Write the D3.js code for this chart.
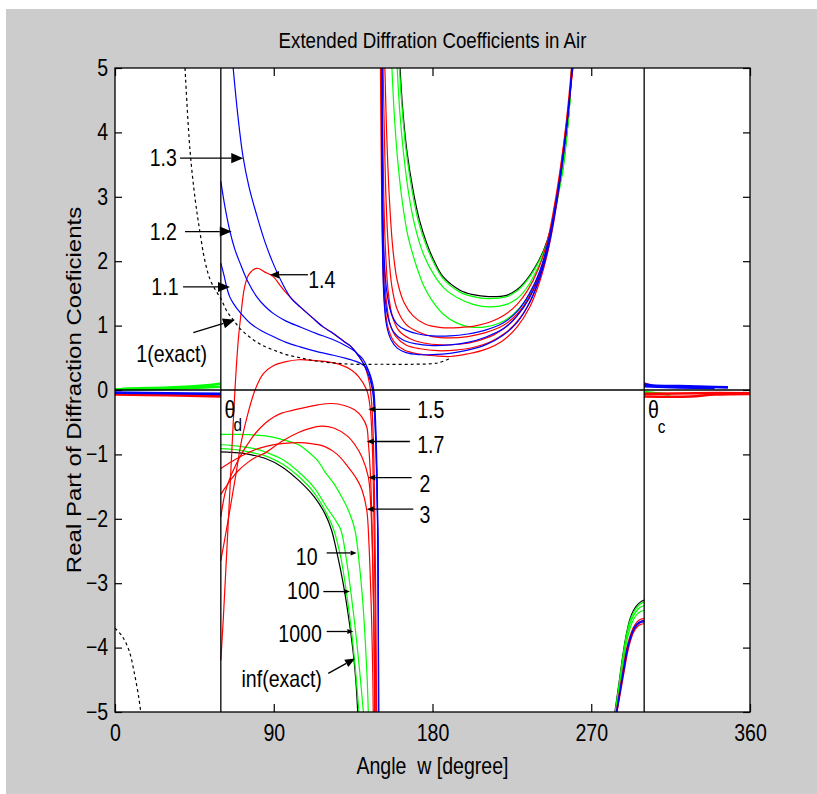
<!DOCTYPE html>
<html>
<head>
<meta charset="utf-8">
<script src="https://cdn.jsdelivr.net/npm/d3@7"></script>
<style>
body { margin: 0; background: #ffffff; }
text { font-family: "Liberation Sans", Arial, sans-serif; fill: #000000; }
</style>
</head>
<body>
<div id="chart"></div>
<script>
// frame size and margins round the plot box
const FRAME_WIDTH = 817;
const FRAME_HEIGHT = 794;
const MARGINS = {left: 115, right: 67, top: 68, bottom: 82};
const VIS_WIDTH = FRAME_WIDTH - MARGINS.left - MARGINS.right;
const VIS_HEIGHT = FRAME_HEIGHT - MARGINS.top - MARGINS.bottom;

// ticks and the two marked angles
const xTicks = [0, 90, 180, 270, 360];
const yTicks = [-5, -4, -3, -2, -1, 0, 1, 2, 3, 4, 5];
const thetaD = 60;
const thetaC = 300;

// ---- data: [angle (deg), real part] ----
// 1 (exact), dashed
const exact1Upper = [[39.7,5],[42.5,3.73],[45.5,2.95],[48,2.48],[51,2.0],[54,1.71],[57,1.55],[60,1.42],[63.5,1.22],[67,1.09],[71,0.95],[76.5,0.82],[83,0.7],[90,0.62],[97,0.55],[105,0.5],[114,0.45],[124,0.42],[135,0.4],[150,0.4],[170,0.4],[183,0.42],[190,0.49]];
const exact1Lower = [[0,-3.7],[4,-3.82],[8,-4.05],[11,-4.4],[13.5,-4.78],[14.6,-5]];

// inf (exact), solid black
const infLeft = [[60,-0.96],[66,-0.97],[72,-0.98],[78,-1.01],[85,-1.06],[94.5,-1.19],[104,-1.4],[113,-1.66],[119,-1.92],[122.7,-2.17],[126,-2.55],[129,-2.95],[132,-3.45],[135.1,-4.09],[136.5,-4.5],[137.6,-5]];
const infU = [[161.6,5],[163,4.4],[165.4,3.73],[169,3.1],[172.5,2.65],[176.7,2.28],[181,2.0],[186,1.76],[195.6,1.55],[203,1.48],[211.7,1.45],[222,1.47],[228,1.56],[233.3,1.71],[238,1.9],[243,2.17],[247,2.5],[250.4,2.95],[254,3.47],[256.3,4.0],[257.9,4.5],[258.9,5]];
const infRight = [[283.4,-5],[286,-4.5],[288,-4.1],[290,-3.78],[292,-3.55],[294,-3.42],[296,-3.34],[298,-3.29],[300,-3.26]];

// 1000, 100, 10 (green)
const g1000Left = [[60,-0.91],[66,-0.92],[72,-0.94],[79,-0.98],[86,-1.03],[95,-1.15],[104,-1.34],[113,-1.6],[120,-1.92],[124,-2.17],[128,-2.6],[131.5,-3.2],[134.5,-3.85],[136.5,-4.4],[138.3,-5]];
const g1000U = [[161.2,5],[162.7,4.4],[165,3.73],[168.5,3.08],[172,2.62],[176.5,2.24],[181,1.96],[186,1.73],[195.6,1.52],[203,1.45],[211.7,1.42],[222,1.45],[228,1.54],[233.3,1.69],[238,1.88],[243,2.15],[247,2.48],[250.4,2.93],[254,3.45],[256.3,4.0],[257.9,4.5],[258.9,5]];
const g1000Right = [[283.6,-5],[286,-4.53],[288,-4.13],[290,-3.8],[292,-3.58],[294,-3.45],[296,-3.37],[298,-3.32],[300,-3.29]];

const g100Left = [[60,-0.85],[66,-0.86],[72,-0.88],[79,-0.91],[86,-0.97],[95,-1.08],[104,-1.27],[113,-1.52],[120,-1.82],[124.5,-2.0],[128,-2.17],[131,-2.6],[134,-3.2],[137,-3.9],[139,-4.45],[140.8,-5]];
const g100U = [[160,5],[161.5,4.3],[163.5,3.7],[166.5,3.05],[170,2.55],[175,2.1],[181,1.78],[187,1.57],[195,1.42],[203,1.33],[212.6,1.29],[222,1.33],[228,1.42],[233.3,1.58],[238,1.8],[243,2.1],[247,2.45],[250.4,2.9],[254,3.43],[256.3,4.0],[257.9,4.5],[258.9,5]];
const g100Right = [[283.8,-5],[286,-4.57],[288,-4.18],[290,-3.85],[292,-3.63],[294,-3.5],[296,-3.42],[298,-3.37],[300,-3.35]];
const g100ZeroL = [[0,0.01],[30,0.02],[60,0.05]];

const g10Left = [[60,-0.69],[70,-0.69],[80,-0.7],[87,-0.72],[95,-0.77],[104,-0.85],[110,-0.97],[115,-1.1],[119,-1.27],[124,-1.45],[128.5,-1.66],[132.5,-1.88],[136,-2.17],[138.5,-2.7],[140.5,-3.3],[142,-3.95],[143,-4.5],[143.6,-5]];
const g10U = [[157,5],[158.5,4.2],[160.5,3.5],[163,2.9],[166,2.4],[170,2.0],[175,1.62],[180,1.38],[186,1.18],[193,1.05],[201,0.98],[210,0.98],[218,1.04],[226,1.18],[233,1.4],[240,1.78],[245,2.2],[249,2.7],[252.5,3.3],[255.5,4.0],[257.5,4.5],[259,5]];
const g10Right = [[284,-5],[286.2,-4.6],[288.2,-4.22],[290,-3.92],[292,-3.7],[294,-3.56],[296,-3.48],[298,-3.44],[300,-3.42]];
const g10ZeroL = [[4,0.02],[20,0.03],[40,0.05],[55,0.08],[60,0.1]];
const g10ZeroR = [[300,-0.03],[307,-0.05],[314.6,-0.07]];

// 1.4, 1.5, 1.7, 2, 3 (red)
const r14Left = [[60,-4.2],[61.5,-3.5],[63,-2.7],[64.5,-1.9],[66.5,-0.8],[68,0],[69.9,0.78],[71.5,1.2],[73.5,1.6],[76,1.8],[80.5,1.89],[85,1.83],[89.7,1.76],[93.5,1.63],[97.3,1.5],[105,1.29],[112,1.12],[118,0.98],[123.6,0.88],[130,0.75],[134,0.67],[137,0.57],[140,0.45],[142.5,0.3],[144.3,0.1],[145.5,-0.2],[146.5,-0.8],[147.3,-2],[147.9,-3.5],[148.3,-5]];
const r14U = [[150.5,5],[150.8,4],[151.2,3],[151.8,2],[153,1.3],[155,0.95],[158.5,0.74],[164,0.62],[172,0.56],[182,0.53],[190,0.52],[200,0.56],[210,0.63],[220,0.77],[228,0.98],[235,1.28],[241,1.7],[246,2.22],[250.5,2.9],[254.5,3.75],[259.6,5]];
const r14Right = [[284.6,-5],[286.8,-4.66],[288.8,-4.35],[290.4,-4.1],[292.2,-3.9],[294,-3.76],[296,-3.68],[298,-3.64],[300,-3.63]];
const r14ZeroL = [[0,-0.07],[30,-0.08],[60,-0.1]];
const r14ZeroR = [[300,-0.1],[326,-0.1],[340,-0.07],[360,-0.06]];

const r15Left = [[60,-2.65],[63,-2.2],[65.2,-1.85],[68,-1.4],[71.8,-0.78],[75.5,-0.35],[79.4,0],[84,0.25],[90,0.38],[97,0.44],[104,0.47],[112,0.46],[120,0.44],[128,0.39],[134,0.31],[138,0.21],[142.7,0],[144.6,-0.26],[145.8,-0.8],[146.8,-2],[147.5,-3.5],[147.9,-5]];
const r15U = [[150.8,5],[151.2,4],[151.7,3],[152.4,2.1],[153.8,1.4],[156,1.02],[159.5,0.82],[165,0.7],[173,0.64],[183,0.61],[193,0.62],[203,0.66],[213,0.75],[222,0.9],[230,1.13],[237,1.48],[243,1.97],[248,2.6],[252,3.3],[255.8,4.1],[259.5,5]];
const r15ZeroL = [[0,-0.05],[30,-0.06],[60,-0.08]];
const r15ZeroR = [[300,-0.06],[330,-0.05],[360,-0.05]];

const r17Left = [[60,-1.97],[62.4,-1.6],[65,-1.38],[68,-1.19],[72,-0.98],[75.5,-0.83],[80,-0.66],[85,-0.52],[90,-0.42],[94.5,-0.36],[100,-0.32],[108,-0.27],[115,-0.23],[122.8,-0.21],[130,-0.24],[136,-0.31],[140,-0.42],[142.7,-0.57],[143.6,-0.8],[144.8,-1.3],[145.8,-2.2],[146.7,-3.5],[147.4,-5]];
const r17U = [[151.3,5],[151.8,4],[152.4,3],[153.3,2.2],[155,1.5],[157.5,1.12],[161,0.92],[167,0.8],[175,0.73],[185,0.7],[195,0.71],[205,0.76],[215,0.86],[224,1.03],[231,1.27],[238,1.62],[244,2.1],[248.5,2.68],[252.5,3.38],[256,4.15],[259.4,5]];
const r17ZeroR = [[300,0.1],[302,0.08],[303.5,0.07]];

const r2Left = [[60,-1.62],[62.4,-1.52],[66,-1.38],[70,-1.25],[75.5,-1.12],[80,-1.04],[85,-0.98],[94.5,-0.8],[104,-0.66],[110,-0.6],[117,-0.56],[124,-0.59],[132,-0.72],[136,-0.85],[140,-1.04],[143.6,-1.35],[145,-1.8],[146.2,-2.8],[146.9,-4],[147.2,-5]];
const r2U = [[152,5],[152.7,4],[153.6,3],[155,2.2],[157,1.6],[160,1.25],[165,1.02],[172,0.9],[180,0.83],[190,0.81],[200,0.83],[210,0.89],[220,1.0],[228,1.18],[235,1.45],[241,1.82],[246,2.3],[250,2.88],[253.5,3.52],[256.5,4.2],[259.3,5]];
const r2Right = [[284.4,-5],[286.6,-4.64],[288.6,-4.31],[290.2,-4.06],[292.1,-3.86],[294,-3.72],[296,-3.64],[298,-3.6],[300,-3.59]];

const r3Left = [[60,-1.22],[65,-1.13],[72,-1.02],[80,-0.92],[85,-0.88],[92,-0.84],[100,-0.82],[107.7,-0.82],[113,-0.84],[119,-0.88],[126,-1.0],[132,-1.19],[137,-1.38],[140,-1.55],[142.7,-1.86],[144,-2.4],[145.2,-3.3],[146,-4.2],[146.4,-5]];
const r3U = [[153,5],[154,4],[155.5,3],[157.5,2.2],[160,1.7],[164,1.35],[169,1.15],[176,1.02],[185,0.97],[195,0.97],[205,1.0],[213,1.06],[221,1.17],[228,1.33],[234,1.55],[240,1.88],[245,2.3],[249,2.85],[252.5,3.45],[255.8,4.15],[258.8,5]];
const r3Right = [[284.2,-5],[286.4,-4.62],[288.4,-4.28],[290,-4.02],[292,-3.82],[294,-3.68],[296,-3.6],[298,-3.56],[300,-3.55]];

// 1.1, 1.2, 1.3 (blue)
const b11Left = [[60,1.97],[61.8,1.78],[63.3,1.6],[65,1.45],[67,1.35],[71,1.2],[76.5,1.04],[83,0.92],[89.7,0.83],[97,0.74],[104.9,0.67],[114,0.6],[123.8,0.54],[131,0.49],[137,0.44],[140,0.4],[142.7,0.34],[144.3,0.26],[145.5,0.16],[146.7,0],[147.6,-0.4],[148.5,-1.2],[149.1,-2.3],[149.4,-5]];
const b11U = [[151.2,5],[151.4,3],[151.8,2],[152.5,1.4],[154,1.0],[156.5,0.78],[160,0.65],[165,0.58],[172,0.55],[180,0.55],[190,0.57],[200,0.62],[210,0.7],[220,0.85],[228,1.05],[235,1.35],[241,1.75],[246,2.25],[250,2.85],[253.5,3.5],[256.5,4.2],[259.2,5]];
const b11Right = [[284.5,-5],[286.7,-4.64],[288.7,-4.32],[290.3,-4.07],[292.1,-3.87],[294,-3.73],[296,-3.65],[298,-3.61],[300,-3.6]];
const b11ZeroL = [[0,-0.04],[30,-0.05],[60,-0.06]];

const b12Left = [[60,3.24],[62.5,2.82],[65.2,2.46],[68,2.18],[70.9,1.97],[75,1.7],[80.3,1.45],[85,1.3],[89.7,1.19],[97,1.07],[104.9,0.98],[114,0.88],[123.8,0.78],[130,0.7],[135,0.62],[138,0.55],[140.8,0.47],[143.6,0.31],[145.5,0.1],[146.6,-0.1],[147.6,-0.6],[148.5,-1.5],[149.1,-2.5],[149.4,-5]];
const b12U = [[151.3,5],[151.5,3],[152,2.0],[153,1.45],[155,1.1],[158,0.9],[163,0.78],[170,0.72],[180,0.69],[190,0.7],[200,0.74],[210,0.82],[220,0.95],[228,1.15],[235,1.43],[241,1.8],[246,2.3],[250,2.88],[253.5,3.52],[256.5,4.2],[259.2,5]];
const b12ZeroR = [[300,0.06],[320,0.04],[340,0.03]];

const b13Left = [[67,5],[69.5,4.3],[72.6,3.62],[76,3.15],[80.5,2.7],[85,2.3],[89.6,1.97],[95,1.65],[100,1.42],[105,1.29],[112,1.12],[118,0.98],[123.6,0.88],[130,0.75],[134,0.67],[137,0.57],[140,0.45],[142.5,0.32],[144.5,0.17],[146,0],[147.4,-0.5],[148.3,-1.3],[149,-2.3],[149.3,-3.5],[149.5,-5]];
const b13U = [[151.5,5],[151.8,3],[152.5,2.1],[154,1.55],[156.5,1.2],[160,1.02],[165,0.93],[172,0.87],[180,0.84],[190,0.84],[200,0.87],[210,0.93],[220,1.04],[228,1.22],[235,1.5],[241,1.86],[246,2.35],[250,2.92],[253.5,3.55],[256.5,4.2],[259.2,5]];
const b13Right = [[284.3,-5],[286.5,-4.63],[288.5,-4.3],[290.1,-4.05],[292,-3.85],[294,-3.71],[296,-3.63],[298,-3.59],[300,-3.58]];
const b13ZeroR = [[300,0.09],[305,0.07],[320,0.06],[335,0.05],[347.5,0.04]];

// curve labels and where their arrows point (data units)
const curveLabels = ["1.3", "1.2", "1.1", "1(exact)", "1.4", "1.5", "1.7", "2", "3", "10", "100", "1000", "inf(exact)"];
const labelX = [27.4, 27.4, 28.3, 32.1, 117.2, 179.0, 179.0, 175.7, 175.7, 108.7, 106.8, 104.9, 94.5];
const labelY = [3.60, 2.46, 1.60, 0.57, 1.71, -0.31, -0.85, -1.45, -1.94, -2.59, -3.12, -3.78, -4.48];
const arrowFrom = [[36.9,3.60],[39.7,2.46],[38.6,1.60],[44.4,0.89],[109.4,1.79],[167.2,-0.30],[167.2,-0.80],[168.2,-1.36],[169.1,-1.85],[120.0,-2.53],[118.1,-3.13],[120.0,-3.75],[120.9,-4.40]];
const arrowTo = [[72.7,3.60],[66.2,2.46],[65.2,1.60],[68.0,1.09],[87.9,1.79],[143.6,-0.30],[142.7,-0.80],[143.6,-1.36],[142.7,-1.85],[137.0,-2.53],[133.2,-3.13],[135.1,-3.75],[136.1,-4.17]];

// ---- styles ----
const BLUE = "#0000ff", RED = "#ff0000", GREEN = "#00ff00", BLACK = "#000000";
const SX = 0.85; // the picture's text is squeezed sideways
const HEAD = [12, 12, 12, 12, 9, 7, 7, 7, 7, 6, 6, 6, 10];

// draw order: black exact first, dashed last
const SERIES = [
	{color: BLACK, segs: [infLeft, infU, infRight], bands: []},
	{color: GREEN, segs: [g1000Left, g1000U, g1000Right], bands: []},
	{color: GREEN, segs: [g100Left, g100U, g100Right], bands: [g100ZeroL]},
	{color: GREEN, segs: [g10Left, g10U, g10Right], bands: [g10ZeroL, g10ZeroR]},
	{color: RED, segs: [r3Left, r3U, r3Right], bands: []},
	{color: RED, segs: [r2Left, r2U, r2Right], bands: []},
	{color: RED, segs: [r17Left, r17U], bands: [r17ZeroR]},
	{color: RED, segs: [r15Left, r15U], bands: [r15ZeroL, r15ZeroR]},
	{color: RED, segs: [r14Left, r14U, r14Right], bands: [r14ZeroL, r14ZeroR]},
	{color: BLUE, segs: [b11Left, b11U, b11Right], bands: [b11ZeroL]},
	{color: BLUE, segs: [b12Left, b12U], bands: [b12ZeroR]},
	{color: BLUE, segs: [b13Left, b13U, b13Right], bands: [b13ZeroR]},
	{color: BLACK, segs: [exact1Upper, exact1Lower], bands: [], dash: "3,3"}
];

const svg = d3.select("#chart")
	.append("svg")
		.attr("width", FRAME_WIDTH)
		.attr("height", FRAME_HEIGHT);

// grey figure background
svg.append("rect")
	.attr("x", 6).attr("y", 9)
	.attr("width", FRAME_WIDTH - 6).attr("height", FRAME_HEIGHT - 9)
	.attr("fill", "#cccccc");

const X_SCALE = d3.scaleLinear()
	.domain([0, 360])
	.range([MARGINS.left, MARGINS.left + VIS_WIDTH]);
const Y_SCALE = d3.scaleLinear()
	.domain([-5, 5])
	.range([MARGINS.top + VIS_HEIGHT, MARGINS.top]);

// white plot box
svg.append("rect")
	.attr("x", MARGINS.left).attr("y", MARGINS.top)
	.attr("width", VIS_WIDTH).attr("height", VIS_HEIGHT)
	.attr("fill", "#ffffff");

svg.append("clipPath").attr("id", "plotclip")
	.append("rect")
		.attr("x", MARGINS.left).attr("y", MARGINS.top)
		.attr("width", VIS_WIDTH).attr("height", VIS_HEIGHT);

const line = d3.line()
	.x((d) => X_SCALE(d[0]))
	.y((d) => Y_SCALE(d[1]))
	.curve(d3.curveCatmullRom.alpha(0.5));

const plot = svg.append("g").attr("clip-path", "url(#plotclip)");

SERIES.forEach((s) => {
	plot.selectAll(null)
		.data(s.bands)
		.enter()
		.append("path")
			.attr("d", line)
			.attr("fill", "none")
			.attr("stroke", s.color)
			.attr("stroke-width", 2.6);
	plot.selectAll(null)
		.data(s.segs)
		.enter()
		.append("path")
			.attr("d", line)
			.attr("fill", "none")
			.attr("stroke", s.color)
			.attr("stroke-width", 1.2)
			.attr("stroke-dasharray", s.dash || null);
});

// zero line and the two angle markers
svg.append("line")
	.attr("x1", X_SCALE(0)).attr("x2", X_SCALE(360))
	.attr("y1", Y_SCALE(0)).attr("y2", Y_SCALE(0))
	.attr("stroke", BLACK).attr("stroke-width", 1.3);
[thetaD, thetaC].forEach((a) => {
	svg.append("line")
		.attr("x1", X_SCALE(a)).attr("x2", X_SCALE(a))
		.attr("y1", Y_SCALE(-5)).attr("y2", Y_SCALE(5))
		.attr("stroke", BLACK).attr("stroke-width", 1.3);
});

// squeezed text helper
function addText(x, y, str, size, anchor) {
	return svg.append("g")
		.attr("transform", "translate(" + x + "," + y + ") scale(" + SX + ",1)")
		.append("text")
			.attr("text-anchor", anchor || "middle")
			.style("font-size", size + "px")
			.text(str);
}

// arrows with filled heads
curveLabels.forEach((lab, i) => {
	const x1 = X_SCALE(arrowFrom[i][0]), y1 = Y_SCALE(arrowFrom[i][1]);
	const x2 = X_SCALE(arrowTo[i][0]), y2 = Y_SCALE(arrowTo[i][1]);
	const len = Math.hypot(x2 - x1, y2 - y1);
	const ux = (x2 - x1) / len, uy = (y2 - y1) / len;
	const h = HEAD[i], w = h * 0.42;
	const bx = x2 - ux * h, by = y2 - uy * h;
	svg.append("line")
		.attr("x1", x1).attr("y1", y1).attr("x2", bx).attr("y2", by)
		.attr("stroke", BLACK).attr("stroke-width", 1.3);
	svg.append("polygon")
		.attr("points", [[x2, y2], [bx - uy * w, by + ux * w], [bx + uy * w, by - ux * w]].join(" "))
		.attr("fill", BLACK);
	addText(X_SCALE(labelX[i]), Y_SCALE(labelY[i]), lab, 23).attr("dy", "0.36em");
});

// theta labels
addText(X_SCALE(65.2), Y_SCALE(-0.31), "θ", 23).attr("dy", "0.36em");
addText(X_SCALE(69.6), Y_SCALE(-0.54), "d", 18).attr("dy", "0.36em");
addText(X_SCALE(305.2), Y_SCALE(-0.31), "θ", 23).attr("dy", "0.36em");
addText(X_SCALE(309.9), Y_SCALE(-0.56), "c", 18).attr("dy", "0.36em");

// axes, ticks pointing inward on all four sides
function styleAxis(g) {
	g.attr("font-family", null).attr("font-size", null);
	g.selectAll(".domain").remove();
	g.selectAll(".tick line").attr("stroke", BLACK).attr("stroke-width", 1.2);
	g.selectAll(".tick text")
		.attr("transform", "scale(" + SX + ",1)")
		.style("font-size", "23px");
}

svg.append("g")
	.attr("transform", "translate(0," + (MARGINS.top + VIS_HEIGHT) + ")")
	.call(d3.axisBottom(X_SCALE).tickValues(xTicks).tickSizeInner(-8).tickSizeOuter(0).tickPadding(13))
	.call(styleAxis);
svg.append("g")
	.attr("transform", "translate(0," + MARGINS.top + ")")
	.call(d3.axisTop(X_SCALE).tickValues(xTicks).tickSizeInner(-8).tickSizeOuter(0).tickFormat(""))
	.call(styleAxis);
svg.append("g")
	.attr("transform", "translate(" + MARGINS.left + ",0)")
	.call(d3.axisLeft(Y_SCALE).tickValues(yTicks).tickSizeInner(-7).tickSizeOuter(0).tickPadding(8))
	.call(styleAxis);
svg.append("g")
	.attr("transform", "translate(" + (MARGINS.left + VIS_WIDTH) + ",0)")
	.call(d3.axisRight(Y_SCALE).tickValues(yTicks).tickSizeInner(-7).tickSizeOuter(0).tickFormat(""))
	.call(styleAxis);

// plot box border
svg.append("rect")
	.attr("x", MARGINS.left).attr("y", MARGINS.top)
	.attr("width", VIS_WIDTH).attr("height", VIS_HEIGHT)
	.attr("fill", "none").attr("stroke", BLACK).attr("stroke-width", 1.3);

// title and axis titles
addText(MARGINS.left + VIS_WIDTH / 2, 48, "Extended Diffration Coefficients in Air", 22);
addText(MARGINS.left + VIS_WIDTH / 2, 774, "Angle  w [degree]", 23).style("white-space", "pre");
svg.append("g")
	.attr("transform", "translate(81," + (MARGINS.top + VIS_HEIGHT / 2) + ") scale(" + SX + ",1) rotate(-90)")
	.append("text")
		.attr("text-anchor", "middle")
		.style("font-size", "24px")
		.text("Real Part of Diffraction Coeficients");
</script>
</body>
</html>
